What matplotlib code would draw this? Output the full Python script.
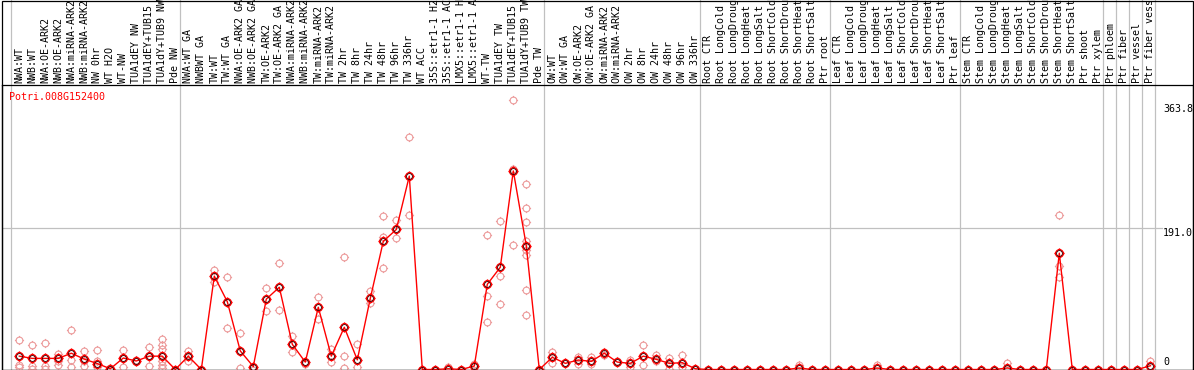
import matplotlib
matplotlib.use("Agg")
import matplotlib.pyplot as plt
from matplotlib.path import Path
from matplotlib.patches import Rectangle
from matplotlib.transforms import blended_transform_factory
import numpy as np

# ---------------- data ----------------
gene = "Potri.008G152400"

labels = [
    "NWA:WT", "NWB:WT", "NWA:OE-ARK2", "NWB:OE-ARK2", "NWA:miRNA-ARK2",
    "NWB:miRNA-ARK2", "NW 0hr", "WT H2O", "WT-NW", "TUA1dEY NW",
    "TUA1dEY+TUB15 NW", "TUA1dY+TUB9 NW", "Pde NW",
    "NWA:WT GA", "NWBWT GA", "TW:WT", "TW:WT GA", "NWA:OE-ARK2 GA",
    "NWB:OE-ARK2 GA", "TW:OE-ARK2", "TW:OE-ARK2 GA", "NWA:miRNA-ARK2 GA",
    "NWB:miRNA-ARK2 GA", "TW:miRNA-ARK2", "TW:miRNA-ARK2 GA", "TW 2hr",
    "TW 8hr", "TW 24hr", "TW 48hr", "TW 96hr", "TW 336hr", "WT ACC",
    "35S::etr1-1 H2O", "35S::etr1-1 ACC", "LMX5::etr1-1 H2O",
    "LMX5::etr1-1 ACC", "WT-TW", "TUA1dEY TW", "TUA1dEY+TUB15 TW",
    "TUA1dY+TUB9 TW", "Pde TW",
    "OW:WT", "OW:WT GA", "OW:OE-ARK2", "OW:OE-ARK2 GA", "OW:miRNA-ARK2",
    "OW:miRNA-ARK2 GA", "OW 2hr", "OW 8hr", "OW 24hr", "OW 48hr", "OW 96hr",
    "OW 336hr",
    "Root CTR", "Root LongCold", "Root LongDrought", "Root LongHeat",
    "Root LongSalt", "Root ShortCold", "Root ShortDrought", "Root ShortHeat",
    "Root ShortSalt", "Ptr root",
    "Leaf CTR", "Leaf LongCold", "Leaf LongDrought", "Leaf LongHeat",
    "Leaf LongSalt", "Leaf ShortCold", "Leaf ShortDrought", "Leaf ShortHeat",
    "Leaf ShortSalt", "Ptr leaf",
    "Stem CTR", "Stem LongCold", "Stem LongDrought", "Stem LongHeat",
    "Stem LongSalt", "Stem ShortCold", "Stem ShortDrought", "Stem ShortHeat",
    "Stem ShortSalt", "Ptr shoot", "Ptr xylem",
    "Ptr phloem", "Ptr fiber", "Ptr vessel", "Ptr fiber vessel",
]

group_sizes = [13, 28, 12, 10, 10, 11, 1, 1, 1, 1]

means = [
    18, 15, 15, 15, 22, 14, 8, 1, 15.5, 11.5, 18, 18, 0,
    18, 0, 126, 91.5, 25, 4, 95, 111, 34, 10, 84, 18, 57, 13, 96, 173, 189,
    261, 0, 0, 1, 0, 4.7, 115, 138, 268, 167, 0,
    16.5, 8.3, 12.8, 11, 22, 10, 8.3, 18, 13.7, 8.3, 9.2, 1,
    0, 0, 0, 0, 0, 0, 0, 2, 0, 0,
    0, 0, 0, 2, 0, 0, 0, 0, 0, 0,
    0, 0, 0, 2, 0, 0, 0, 157, 0, 0, 0,
    0, 0, 0, 5,
]

replicates = {
    0: [39.8, 6, 3], 1: [32.6, 4.7, 1], 2: [35.3, 4.7, 1], 3: [20.9, 6, 12],
    4: [53.3, 12.8, 4], 5: [24.5, 4.7, 12], 6: [26.3, 11.9, 4], 7: [0, 2],
    8: [26.3, 4, 15], 9: [11, 13], 10: [30.4, 4.7, 18],
    11: [41.2, 32.6, 28, 12, 6, 2], 12: [0], 13: [25, 11.5], 14: [0],
    15: [134.3, 118.5], 16: [124.8, 55.6], 17: [48.8, 2], 18: [0],
    19: [109.6, 79], 20: [143.3, 80.3], 21: [45.2, 23.2], 22: [10, 8],
    23: [97.4, 68.2], 24: [27.3, 10], 25: [151.8, 18.2, 2], 26: [34, 3],
    27: [106.4, 89.3], 28: [206.7, 178.4, 137], 29: [201.3, 177],
    30: [313.4, 208.1], 31: [0], 32: [0], 33: [3], 34: [0], 35: [8],
    36: [181.1, 99.6, 64.1], 37: [200, 125.8, 88.4], 38: [363.8, 271, 167.6],
    39: [250.3, 217.5, 199, 173.4, 161.3, 154.5, 107.3, 73.5], 40: [0],
    41: [24, 8.3], 42: [8.3], 43: [17.5, 7], 44: [16.5, 7], 45: [24, 20],
    46: [12], 47: [12.8, 3.8], 48: [33, 5.5], 49: [20, 11], 50: [16, 1],
    51: [19, 3], 52: [1], 60: [6], 66: [6], 76: [9],
    80: [208.5, 139.7, 124.4], 87: [11.5],
}

y_max_label = 363.8
y_mid_label = 191.0

# ---------------- style ----------------
W, H = 1194, 370
RED = "#ff0000"
PINK = "#ec9a9a"
GRID = "#c0c0c0"
MONO = "DejaVu Sans Mono"
FS = 7.2

col_px = 13.0          # pixel width of one column
x0_px = 19.3           # pixel position of first column's point
left_px, right_px, top_px, bottom_px = 2, 1193, 85, 369.5
px_per_unit = 0.741

fig = plt.figure(figsize=(W / 100, H / 100), dpi=100)
fig.patch.set_facecolor("white")
ax = fig.add_axes([left_px / W, (H - bottom_px) / H,
                   (right_px - left_px) / W, (bottom_px - top_px) / H])
ax.set_xlim((left_px - x0_px) / col_px, (right_px - x0_px) / col_px)
ax.set_ylim(0, (bottom_px - top_px) / px_per_unit)
ax.set_xticks([])
ax.set_yticks([])
for s in ax.spines.values():
    s.set_color("black")
    s.set_linewidth(0.9)
ax.set_facecolor("white")

# outer frame (covers header too)
fig.add_artist(Rectangle((left_px / W, (H - bottom_px) / H),
                         (right_px - left_px) / W, (bottom_px - 0.5) / H,
                         transform=fig.transFigure, fill=False,
                         edgecolor="black", linewidth=0.9, zorder=10))

# group separators (full height)
blend = blended_transform_factory(ax.transData, fig.transFigure)
bounds = np.concatenate([[0], np.cumsum(group_sizes)])
sep_off = (x0_px - 11) / col_px
for b in bounds:
    ax.plot([b - sep_off, b - sep_off], [0, 1], transform=blend,
            color=GRID, lw=0.9, clip_on=False, zorder=1)

# horizontal grid at mid label
ax.axhline(y_mid_label, xmin=0, xmax=(1162 - left_px) / (right_px - left_px),
           color=GRID, lw=0.9, zorder=1)

# column labels in header
label_bottom = (H - 83) / H
for i, lab in enumerate(labels):
    ax.text(i, label_bottom, lab, transform=blend, rotation=90,
            ha="center", va="bottom", fontsize=FS, family=MONO,
            color="black", clip_on=False)

# marker: ring with four small ticks
def sun_path(r=0.74):
    circ = Path.circle((0, 0), r)
    verts = list(circ.vertices)
    codes = list(circ.codes)
    for a in np.deg2rad([0, 90, 180, 270]):
        verts += [(r * np.cos(a), r * np.sin(a)), (np.cos(a), np.sin(a))]
        codes += [Path.MOVETO, Path.LINETO]
    return Path(verts, codes)

SUN = sun_path()

# replicates
rx, ry = [], []
for i, vals in replicates.items():
    for v in vals:
        rx.append(i)
        ry.append(v)
ax.plot(rx, ry, linestyle="none", marker=SUN, markersize=6.6,
        markerfacecolor="none", markeredgecolor=PINK, markeredgewidth=0.8,
        clip_on=False, zorder=3)

# mean line + markers
xs = np.arange(len(means))
ax.plot(xs, means, color=RED, lw=1.0, zorder=4, clip_on=False)
ax.plot(xs, means, linestyle="none", marker=SUN, markersize=7.4,
        markerfacecolor="none", markeredgecolor=RED, markeredgewidth=1.0,
        clip_on=False, zorder=5)
ax.plot(xs, means, linestyle="none", marker="o", markersize=4.2,
        markerfacecolor="none", markeredgecolor="#300000", markeredgewidth=0.6,
        clip_on=False, zorder=6)

# gene name
ax.annotate(gene, xy=(0, 1), xycoords="axes fraction", xytext=(7.5, -11.7),
            textcoords="offset pixels", ha="left", va="center",
            fontsize=FS, family=MONO, color=RED)

# value labels on the right
xlab = bounds[-1] - sep_off
ax.annotate(f"{y_max_label:.1f}", xy=(xlab, y_max_label), xycoords="data",
            xytext=(8, -12), textcoords="offset pixels", ha="left",
            va="baseline", fontsize=FS, family=MONO, color="black")
ax.annotate(f"{y_mid_label:.1f}", xy=(xlab, y_mid_label), xycoords="data",
            xytext=(8, -8), textcoords="offset pixels", ha="left",
            va="baseline", fontsize=FS, family=MONO, color="black")
ax.annotate("0", xy=(xlab, 0), xycoords="data",
            xytext=(8, 4.5), textcoords="offset pixels", ha="left",
            va="baseline", fontsize=FS, family=MONO, color="black")

fig.savefig("out.png", dpi=100, facecolor="white")
